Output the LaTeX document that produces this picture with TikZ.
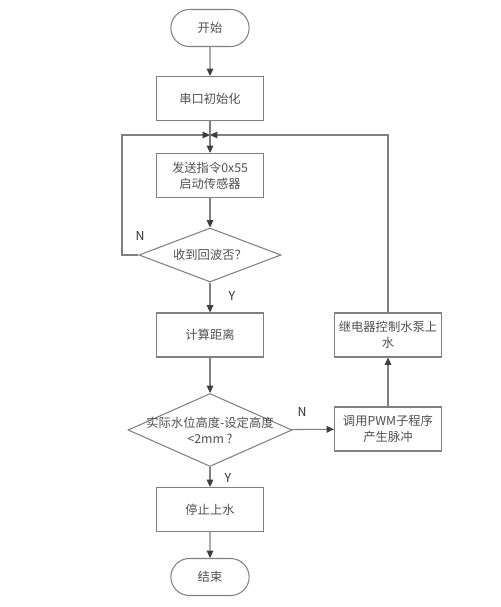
\documentclass[tikz,border=0pt]{standalone}
\usepackage{fontspec}
\setmainfont{Noto Sans CJK SC}
\usetikzlibrary{arrows.meta,shapes.geometric,shapes.misc}
\definecolor{edge}{HTML}{808080}
\definecolor{tip}{HTML}{3F3F3F}
\definecolor{ink}{HTML}{505050}

\begin{document}
\begin{tikzpicture}[x=0.02cm, y=-0.02cm,
  every node/.style={font=\fontsize{7}{9}\selectfont, text=ink},
  box/.style={draw=edge, line width=0.6pt, minimum width=2.14cm, minimum height=0.88cm, align=center, inner sep=1pt},
  term/.style={draw=edge, line width=0.6pt, rounded rectangle, minimum width=1.8cm, minimum height=0.74cm},
  decision/.style={draw=edge, line width=0.6pt, diamond, inner sep=0pt},
  flow/.style={draw=edge, line width=0.6pt, -{Triangle[length=4.2pt, width=3.8pt, color=tip]}},
  line/.style={draw=edge, line width=0.6pt},
  yn/.style={font=\fontsize{7}{9}\selectfont, text=black!80}]
  \useasboundingbox (0,0) rectangle (500,607);

  % main column
  \node[term] (start) at (210,28) {开始};
  \node[box] (init) at (210,98.5) {串口初始化};
  \coordinate (merge) at (210,135);
  \node[box] (send) at (210,175.5) {发送指令0x55\\启动传感器};
  \node[decision, minimum width=2.84cm, minimum height=1.08cm] (echo) at (210,255) {};
  \node (echo-txt) at (210,255) {收到回波否？};
  \node[box] (calc) at (210,335) {计算距离};
  \node[decision, minimum width=3.28cm, minimum height=1.46cm] (cmp) at (210,430) {};
  \node[align=center] (cmp-txt) at (210,430) {实际水位高度-设定高度\\<2mm ?};
  \node[box] (stop) at (210,509.5) {停止上水};
  \node[term] (end) at (210,577) {结束};

  % right column
  \node[box] (pwm) at (388,429) {调用PWM子程序\\产生脉冲};
  \node[box] (relay) at (388,335) {继电器控制水泵上\\水};

  % arrows
  \draw[flow] (start) -- (init);
  \draw[flow] (init) -- (send);
  \draw[flow] (send) -- (echo);
  \draw[flow] (echo) -- (calc);
  \draw[flow] (calc) -- (cmp);
  \draw[flow] (cmp) -- (stop);
  \draw[flow] (stop) -- (end);
  \draw[flow] (cmp) -- (pwm);
  \draw[flow] (pwm) -- (relay);

  % loops back
  \draw[flow] (echo.west) -- (122,255) -- (122,135) -- (merge);
  \draw[flow] (relay.north) -- (388,135) -- (merge);

  % labels
  \node[yn] (n1) at (140,236) {N};
  \node[yn] (y1) at (232,296) {Y};
  \node[yn] (n2) at (302,412) {N};
  \node[yn] (y2) at (228,478) {Y};
\end{tikzpicture}
\end{document}
